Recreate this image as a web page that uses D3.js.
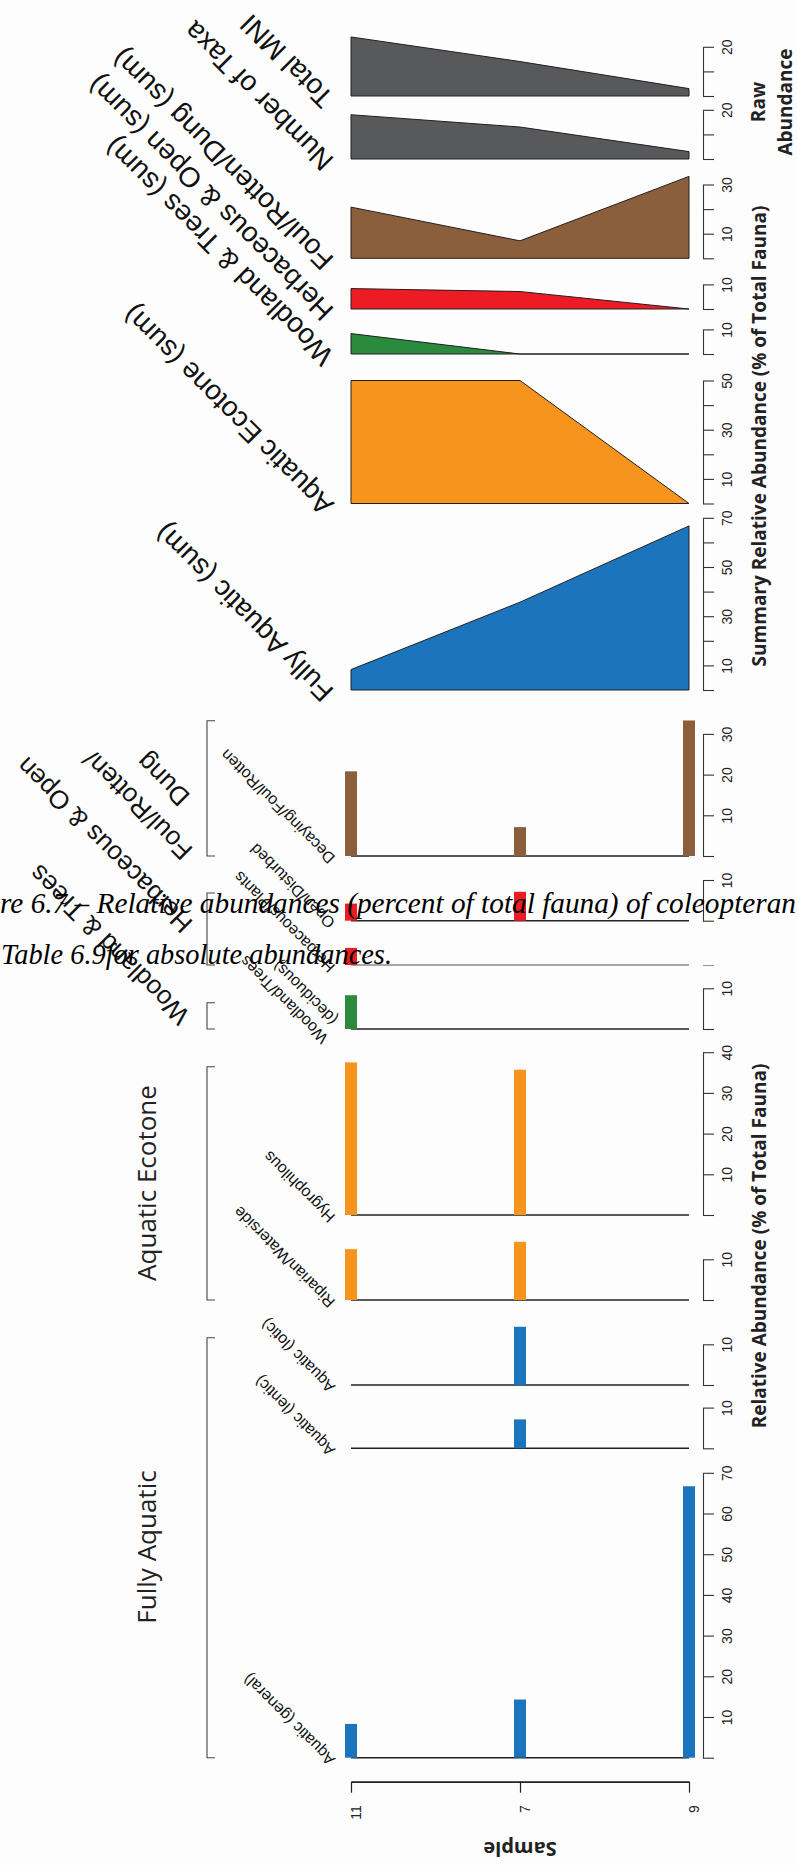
<!DOCTYPE html>
<html><head><meta charset="utf-8">
<script src="https://cdn.jsdelivr.net/npm/d3@7"></script>
<style>html,body{margin:0;padding:0;background:#fdfdfd;} svg{display:block;}</style>
</head><body>
<svg id="chart" width="797" height="1865"></svg>
<script>
// ================= DATA =================
const samples = ["11", "7", "9"];

// Summary panels (area plots), top to bottom on the page
const summaryNames = ["Total MNI", "Number of Taxa", "Foul/Rotten/Dung (sum)", "Herbaceous & Open (sum)",
  "Woodland & Trees (sum)", "Aquatic Ecotone (sum)", "Fully Aquatic (sum)"];
const totalMNI = [24, 14, 3];
const numberOfTaxa = [18, 13, 3];
const foulRottenDungSum = [20.8, 7.1, 33.3];
const herbaceousOpenSum = [8.3, 7.1, 0];
const woodlandTreesSum = [8.3, 0, 0];
const aquaticEcotoneSum = [50, 50, 0];
const fullyAquaticSum = [8.3, 35.7, 66.7];
const summaryTicks = [[0,10,20],[0,10,20],[0,10,20,30],[0,10],[0,10],[0,10,20,30,40,50],[0,10,20,30,40,50,60,70]];
const summaryTickLabels = [["20"],["20"],["10","30"],["10"],["10"],["10","30","50"],["10","30","50","70"]];

// Bar panels (relative abundance %), top to bottom on the page
const barNames = ["Decaying/Foul/Rotten", "Open/Disturbed", "Herbaceous/Plants", "Woodland/Trees\n(deciduous)",
  "Hygrophilous", "Riparian/Waterside", "Aquatic (lotic)", "Aquatic (lentic)", "Aquatic (general)"];
const decayingFoulRotten = [20.8, 7.1, 33.3];
const openDisturbed = [4.2, 7.1, 0];
const herbaceousPlants = [4.2, 0, 0];
const woodlandTreesDeciduous = [8.3, 0, 0];
const hygrophilous = [37.5, 35.7, 0];
const riparianWaterside = [12.5, 14.3, 0];
const aquaticLotic = [0, 14.3, 0];
const aquaticLentic = [0, 7.1, 0];
const aquaticGeneral = [8.3, 14.3, 66.7];
const barTicks = [[0,10,20,30],[0,10],[0],[0,10],[0,10,20,30,40],[0,10],[0,10],[0,10],[0,10,20,30,40,50,60,70]];
const barTickLabels = [["10","20","30"],["10"],[],["10"],["10","20","30","40"],["10"],["10"],["10"],["10","20","30","40","50","60","70"]];

const groupNames = ["Foul/Rotten/\nDung", "Herbaceous & Open", "Woodland & Trees", "Aquatic Ecotone", "Fully Aquatic"];

const captionLines = ["re 6.7 \u2013 Relative abundances (percent of total fauna) of coleopteran",
  "Table 6.9for absolute abundances."];

// ================= LAYOUT / STYLE =================
const summarySeries = [totalMNI, numberOfTaxa, foulRottenDungSum, herbaceousOpenSum, woodlandTreesSum, aquaticEcotoneSum, fullyAquaticSum];
const summaryBase = [96, 159, 258.3, 309, 354, 503.5, 690];
const summaryFill = ["#58595b","#58595b","#8b5e3c","#ed1c24","#2b8a3e","#f7941d","#1c75bc"];
const summaryPx = 2.46;

const barSeries = [decayingFoulRotten, openDisturbed, herbaceousPlants, woodlandTreesDeciduous, hygrophilous, riparianWaterside, aquaticLotic, aquaticLentic, aquaticGeneral];
const barBase = [856, 920.7, 965, 1029, 1215, 1300, 1385, 1448.3, 1757.7];
const barFill = ["#8b5e3c","#ed1c24","#ed1c24","#2b8a3e","#f7941d","#f7941d","#1c75bc","#1c75bc","#1c75bc"];
const barAxisColor = ["#333","#333","#999","#333","#333","#333","#333","#333","#333"];
const barPx = 4.07;

const axisX = 703;
const labelX = 336;
const sans = "'Liberation Sans', Arial, Helvetica, sans-serif";
const bold = "'Open Sans', 'DejaVu Sans', sans-serif";

const svg = d3.select("#chart");
svg.append("rect").attr("width",797).attr("height",1865).attr("fill","#fdfdfd");

const x = d3.scalePoint().domain(samples).range([351, 689]);

function valueAxis(y, ticks, labels, color) {
  const top = d3.max(ticks);
  const ys = d3.scaleLinear().domain([0, top]).range([y(0), y(top)]);
  const ax = d3.axisRight(ys).tickValues(ticks).tickSize(11).tickSizeOuter(0)
    .tickFormat(d => labels.includes(String(d)) ? String(d) : "");
  const g = svg.append("g").attr("transform", `translate(${axisX},0)`).call(ax);
  g.select(".domain").attr("stroke", color).attr("stroke-width", 1.1);
  g.selectAll(".tick line").attr("stroke", color).attr("stroke-width", 1.1);
  g.selectAll(".tick text").attr("x", null).attr("dy", null).attr("y", null)
    .attr("transform", "translate(28.5,0) rotate(-90)")
    .attr("text-anchor", "middle").attr("fill", "#222")
    .style("font-family", sans).style("font-size", "14px");
}

function taxonLabel(text, X, Y, size) {
  const lines = text.split("\n");
  const t = svg.append("text")
    .attr("transform", `translate(${X},${Y}) rotate(-135)`)
    .style("font-family", sans).style("font-size", size + "px").attr("fill", "#111");
  if (lines.length === 1) { t.text(text); return; }
  // two-line label: lines straddle the anchor
  t.append("tspan").attr("x", 0).attr("y", -size * 0.62).text(lines[0]);
  t.append("tspan").attr("x", size * 0.4).attr("y", size * 0.62).text(lines[1]);
}

// ---- summary area panels ----
summarySeries.forEach((vals, i) => {
  const b = summaryBase[i];
  const top = d3.max(summaryTicks[i]);
  const y = d3.scaleLinear().domain([0, top]).range([b, b - top * summaryPx]);
  const area = d3.area().x((d, j) => x(samples[j])).y0(y(0)).y1(d => y(d));
  svg.append("path").datum(vals).attr("d", area)
    .attr("fill", summaryFill[i]).attr("stroke", "#231f20").attr("stroke-width", 1).attr("stroke-linejoin", "round");
  valueAxis(y, summaryTicks[i], summaryTickLabels[i], "#333");
  taxonLabel(summaryNames[i], labelX - 1, b, 28);
});

// ---- bar panels ----
barSeries.forEach((vals, i) => {
  const b = barBase[i];
  const top = Math.max(d3.max(barTicks[i]), 1);
  const y = d3.scaleLinear().domain([0, top]).range([b, b - top * barPx]);
  svg.append("line").attr("x1", x(samples[0])).attr("x2", x(samples[samples.length - 1]))
    .attr("y1", y(0)).attr("y2", y(0)).attr("stroke", barAxisColor[i] === "#999" ? "#8a8a8a" : "#222").attr("stroke-width", 1.6);
  svg.selectAll(null).data(vals).enter().append("rect")
    .attr("x", (d, j) => x(samples[j]) - 6).attr("width", 12)
    .attr("y", d => y(d)).attr("height", d => y(0) - y(d))
    .attr("fill", barFill[i]);
  valueAxis(y, barTicks[i], barTickLabels[i], barAxisColor[i]);
  taxonLabel(barNames[i], labelX, b + 1, 16);
});

// ---- sample axis ----
const sg = svg.append("g").attr("transform", "translate(0,1781.7)")
  .call(d3.axisBottom(x).tickSize(11).tickSizeOuter(0));
sg.select(".domain").attr("stroke", "#222").attr("stroke-width", 1.8);
sg.selectAll(".tick line").attr("stroke", "#222").attr("stroke-width", 1.2);
sg.selectAll(".tick text").attr("y", null).attr("dy", null)
  .attr("transform", "translate(9,23.5) rotate(-90)").attr("text-anchor", "end")
  .attr("fill", "#222").style("font-family", sans).style("font-size", "14px");

svg.append("text").attr("transform", "translate(520,1842) rotate(180)").attr("text-anchor", "middle")
  .style("font-family", bold).style("font-weight", 700).style("font-size", "20px").attr("fill", "#222").text("Sample");

// ---- axis titles ----
function vTitle(lines, X, Ycenter, lh) {
  const t = svg.append("text").attr("transform", `translate(${X},${Ycenter}) rotate(-90)`).attr("text-anchor", "middle")
    .style("font-family", bold).style("font-weight", 700).style("font-size", "19px").attr("fill", "#222");
  lines.forEach((l, k) => t.append("tspan").attr("x", 0).attr("y", k * lh).text(l));
}
vTitle(["Raw", "Abundance"], 765, 102, 27);
vTitle(["Summary Relative Abundance (% of Total Fauna)"], 766, 436, 0);
vTitle(["Relative Abundance (% of Total Fauna)"], 766, 1246, 0);

// ---- group brackets ----
const brackets = [[720.7, 856], [893, 965], [1002.7, 1029], [1066.7, 1300], [1337.7, 1757.7]];
brackets.forEach(([a, b]) => {
  svg.append("path").attr("d", `M215,${a}H207V${b}H215`).attr("fill", "none").attr("stroke", "#444").attr("stroke-width", 1.1);
});

// group labels
function groupDiag(text, X, Y) {
  const lines = text.split("\n");
  const t = svg.append("text").attr("transform", `translate(${X},${Y}) rotate(-135)`)
    .style("font-family", sans).style("font-size", "26px").attr("fill", "#111");
  t.append("tspan").attr("x", 0).attr("y", 0).text(lines[0]);
  if (lines[1]) t.append("tspan").attr("x", 40).attr("y", 36).text(lines[1]);
}
groupDiag(groupNames[0], 194, 849);
groupDiag(groupNames[1], 194, 922);
groupDiag(groupNames[2], 191, 1014);
function groupV(text, X, Y) {
  svg.append("text").attr("transform", `translate(${X},${Y}) rotate(-90)`).attr("text-anchor", "middle")
    .style("font-family", bold).style("font-size", "26px").attr("fill", "#222").text(text);
}
groupV(groupNames[3], 156, 1183);
groupV(groupNames[4], 156, 1547);

// ---- caption overlay ----
svg.append("text").attr("x", 0).attr("y", 913).attr("textLength", 796).attr("lengthAdjust", "spacingAndGlyphs")
  .style("font-family", "'Liberation Serif', 'Times New Roman', serif").style("font-style", "italic").style("font-size", "29px")
  .attr("fill", "#000").text(captionLines[0]);
svg.append("text").attr("x", 1).attr("y", 964).attr("textLength", 391).attr("lengthAdjust", "spacingAndGlyphs")
  .style("font-family", "'Liberation Serif', 'Times New Roman', serif").style("font-style", "italic").style("font-size", "29px")
  .attr("fill", "#000").text(captionLines[1]);
</script>
</body></html>
